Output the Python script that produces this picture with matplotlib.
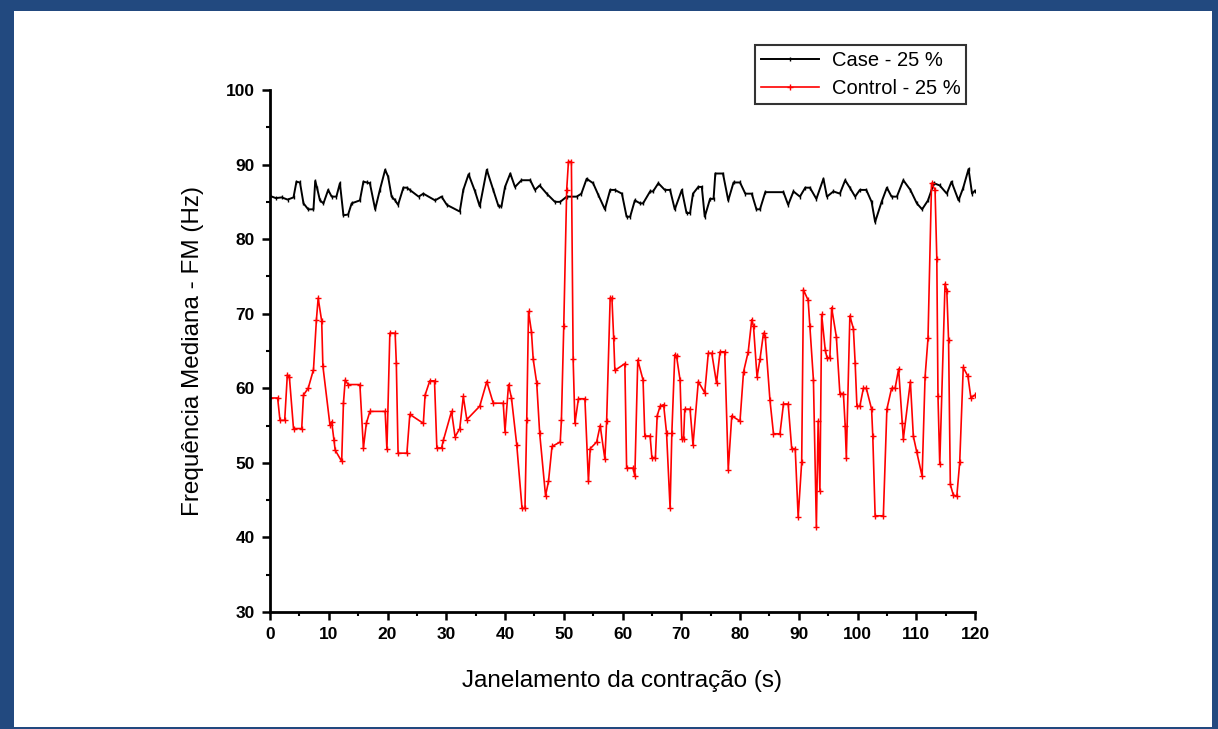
import matplotlib.pyplot as plt
from matplotlib.patches import Rectangle
from matplotlib.ticker import MultipleLocator

plt.rcParams['font.family'] = ['Liberation Sans', 'DejaVu Sans']

# Case - 25 % (black)
case_t = [0, 1, 2, 3, 4, 4.5, 5.1, 5.7, 6.5, 7.4, 7.7, 8.0, 8.5, 9.1, 9.9, 10.5, 11.3, 11.9,
          12.5, 13.3, 13.9, 15.3, 15.9, 16.5, 17.0, 17.9, 18.7, 19.6, 20.1, 20.7, 21.3, 21.8,
          22.7, 23.3, 23.8, 25.3, 26.1, 28.1, 29.2, 30.1, 32.3, 32.9, 33.8, 34.9, 35.7, 36.9,
          38.0, 38.9, 39.4, 40.0, 40.9, 41.7, 42.8, 44.3, 45.1, 45.9, 47.1, 48.5, 49.4, 50.5,
          52.2, 53.0, 53.9, 55.0, 55.9, 57.0, 57.9, 58.7, 59.9, 60.7, 61.3, 62.1, 63.0, 63.5,
          64.7, 65.2, 66.1, 67.2, 68.1, 68.9, 70.1, 70.9, 71.5, 72.0, 72.9, 73.5, 74.0, 74.9,
          75.5, 75.8, 77.1, 78.0, 78.9, 80.0, 80.9, 82.0, 82.8, 83.4, 84.3, 87.4, 88.2, 89.1,
          90.2, 91.1, 91.9, 93.0, 94.2, 94.8, 95.9, 97.0, 97.9, 98.7, 99.6, 100.4, 101.5, 102.4,
          103.0, 104.1, 105.0, 105.8, 106.7, 107.8, 109.0, 110.1, 111.0, 112.0, 113.0, 114.0,
          115.2, 116.0, 117.2, 118.0, 118.9, 119.5, 120.0]
case_v = [85.8, 85.5, 85.6, 85.3, 85.6, 87.7, 87.6, 84.8, 84.0, 84.0, 87.8, 86.9, 85.2, 84.8,
          86.6, 85.7, 85.7, 87.5, 83.2, 83.3, 84.8, 85.2, 87.7, 87.6, 87.5, 84.0, 86.6, 89.3,
          88.4, 85.7, 85.2, 84.6, 86.9, 86.9, 86.6, 85.7, 86.1, 85.2, 85.7, 84.6, 83.7, 86.6,
          88.7, 86.4, 84.4, 89.3, 86.6, 84.4, 84.4, 87.0, 88.8, 87.0, 87.9, 87.9, 86.6, 87.2,
          86.1, 85.0, 85.0, 85.7, 85.7, 86.1, 88.1, 87.5, 85.9, 84.0, 86.6, 86.6, 86.1, 83.0,
          83.0, 85.2, 84.8, 84.8, 86.4, 86.4, 87.5, 86.6, 86.6, 84.0, 86.6, 83.5, 83.5, 86.1,
          87.0, 87.0, 83.0, 85.4, 85.4, 88.8, 88.8, 85.2, 87.6, 87.6, 86.1, 86.1, 84.0, 84.0,
          86.3, 86.3, 84.6, 86.4, 85.7, 86.9, 86.9, 85.4, 88.1, 85.7, 86.4, 86.1, 87.9, 86.9,
          85.7, 86.6, 86.6, 85.0, 82.3, 85.0, 86.9, 85.7, 85.7, 87.9, 86.6, 84.8, 84.0, 85.2,
          87.5, 87.2, 86.1, 87.7, 85.2, 86.9, 89.4, 86.1, 86.5]

# Control - 25 % (red)
ctrl_t = [0, 1.3, 1.7, 2.5, 2.95, 3.3, 4.0, 5.4, 5.7, 6.5, 7.4, 7.9, 8.2, 8.8, 9.0, 10.2, 10.5,
          10.9, 11.1, 12.2, 12.5, 12.8, 13.3, 15.3, 15.9, 16.4, 17.0, 19.6, 19.9, 20.4, 21.3,
          21.5, 21.8, 23.3, 23.8, 26.1, 26.4, 27.2, 28.0, 28.4, 29.2, 29.5, 30.9, 31.5, 32.3,
          32.9, 33.5, 35.7, 36.9, 38.0, 39.7, 40.0, 40.6, 41.1, 42.0, 42.9, 43.4, 43.7, 44.0,
          44.5, 44.8, 45.4, 45.9, 46.9, 47.4, 48.0, 49.4, 49.6, 50.0, 50.5, 50.8, 51.3, 51.6,
          51.9, 52.5, 53.6, 54.2, 54.5, 55.6, 56.2, 57.0, 57.3, 57.9, 58.2, 58.5, 58.7, 60.4,
          60.7, 61.8, 62.1, 62.6, 63.5, 63.8, 64.7, 65.0, 65.6, 65.9, 66.4, 67.0, 67.5, 68.1,
          68.4, 68.9, 69.2, 69.8, 70.1, 70.4, 70.6, 71.5, 72.0, 72.9, 74.0, 74.6, 75.2, 76.0,
          76.6, 77.4, 78.0, 78.6, 80.0, 80.6, 81.4, 82.0, 82.3, 82.9, 83.4, 84.0, 84.3, 85.1,
          85.7, 86.8, 87.4, 88.2, 88.8, 89.4, 89.9, 90.5, 90.8, 91.6, 91.9, 92.5, 93.0, 93.3,
          93.6, 93.9, 94.5, 94.8, 95.3, 95.6, 96.4, 97.0, 97.6, 97.9, 98.1, 98.7, 99.3, 99.6,
          99.9, 100.4, 101.0, 101.5, 102.4, 102.6, 103.0, 104.4, 105.0, 105.8, 106.4, 107.0,
          107.6, 107.8, 109.0, 109.5, 110.1, 111.0, 111.5, 112.0, 112.6, 113.2, 113.5, 113.7,
          114.0, 114.9, 115.2, 115.5, 115.8, 116.3, 116.9, 117.4, 118.0, 118.8, 119.3, 120.0]
ctrl_v = [58.7, 58.7, 55.7, 55.7, 61.8, 61.5, 54.6, 54.6, 59.1, 60.0, 62.5, 69.2, 72.1, 69.0,
          63.0, 55.1, 55.5, 53.0, 51.7, 50.2, 58.0, 61.1, 60.5, 60.5, 52.0, 55.3, 56.9, 56.9,
          51.8, 67.4, 67.4, 63.4, 51.3, 51.3, 56.5, 55.3, 59.1, 61.0, 61.0, 52.0, 52.0, 53.0,
          56.9, 53.5, 54.6, 58.9, 55.8, 57.6, 60.9, 58.0, 58.0, 54.2, 60.5, 58.7, 52.4, 43.9,
          43.9, 55.7, 70.3, 67.6, 63.9, 60.7, 54.0, 45.6, 47.5, 52.2, 52.8, 55.7, 68.3, 86.6,
          90.4, 90.4, 63.9, 55.3, 58.6, 58.6, 47.5, 51.9, 52.8, 55.0, 50.5, 55.6, 72.1, 72.1,
          66.7, 62.4, 63.3, 49.3, 49.3, 48.2, 63.8, 61.1, 53.6, 53.6, 50.7, 50.7, 56.3, 57.6,
          57.8, 54.0, 43.9, 54.0, 64.5, 64.3, 61.1, 53.2, 53.2, 57.2, 57.2, 52.4, 60.9, 59.4,
          64.7, 64.7, 60.7, 64.9, 64.9, 49.1, 56.3, 55.6, 62.2, 64.9, 69.2, 68.3, 61.5, 63.9,
          67.4, 66.9, 58.4, 53.9, 53.9, 57.9, 57.9, 51.9, 51.9, 42.7, 50.1, 73.2, 71.8, 68.3,
          61.1, 41.4, 55.6, 46.2, 69.9, 65.2, 64.1, 64.1, 70.8, 66.9, 59.3, 59.3, 55.0, 50.7,
          69.7, 68.0, 63.4, 57.6, 57.6, 60.0, 60.0, 57.2, 53.6, 42.9, 42.9, 57.2, 60.0, 60.0,
          62.6, 55.4, 53.2, 60.9, 53.6, 51.4, 48.2, 61.5, 66.7, 87.5, 86.6, 77.4, 58.9, 49.8,
          74.0, 73.1, 66.5, 47.1, 45.7, 45.5, 50.1, 62.8, 61.6, 58.7, 59.1]

W, H = 1218, 729
fig = plt.figure(figsize=(W / 100, H / 100), dpi=100)
border = '#22497f'
# uneven frame around the picture (left/top thicker, as in the screenshot)
for x0, y0, w, h in [(0, 0, 14, H), (0, H - 11, W, 11), (W - 6, 0, 6, H), (0, 0, W, 2)]:
    fig.patches.append(Rectangle((x0 / W, y0 / H), w / W, h / H, transform=fig.transFigure,
                                 facecolor=border, edgecolor='none'))

ax = fig.add_axes([270 / W, 1 - 612 / H, 705 / W, 522 / H])
ax.plot(case_t, case_v, color='black', linewidth=1.4, marker='|', markersize=3,
        markeredgewidth=1.0, label='Case - 25 %')
ax.plot(ctrl_t, ctrl_v, color='red', linewidth=1.2, marker='+', markersize=5,
        markeredgewidth=1.0, label='Control - 25 %')

ax.set_xlim(0, 120)
ax.set_ylim(30, 100)
ax.xaxis.set_major_locator(MultipleLocator(10))
ax.xaxis.set_minor_locator(MultipleLocator(5))
ax.yaxis.set_major_locator(MultipleLocator(10))
ax.yaxis.set_minor_locator(MultipleLocator(5))
for s in ['top', 'right']:
    ax.spines[s].set_visible(False)
for s in ['left', 'bottom']:
    ax.spines[s].set_linewidth(2)
ax.tick_params(which='major', direction='out', length=6, width=1.8, labelsize=12.5, pad=5)
ax.tick_params(which='minor', direction='out', length=3, width=1.5)
for lab in ax.get_xticklabels() + ax.get_yticklabels():
    lab.set_fontweight('bold')

ax.set_xlabel('Janelamento da contração (s)', fontsize=17.5, labelpad=20)
ax.set_ylabel('Frequência Mediana - FM (Hz)', fontsize=17.5, labelpad=16)

leg = fig.legend(loc='upper left', bbox_to_anchor=(755 / W, 1 - 45 / H), fontsize=14.5,
                 frameon=True, fancybox=False, handlelength=2.9, borderpad=0.3,
                 borderaxespad=0, labelspacing=0.45, handletextpad=0.6)
leg.get_frame().set_edgecolor('black')
leg.get_frame().set_linewidth(1.5)

fig.savefig('out.png', dpi=100)
